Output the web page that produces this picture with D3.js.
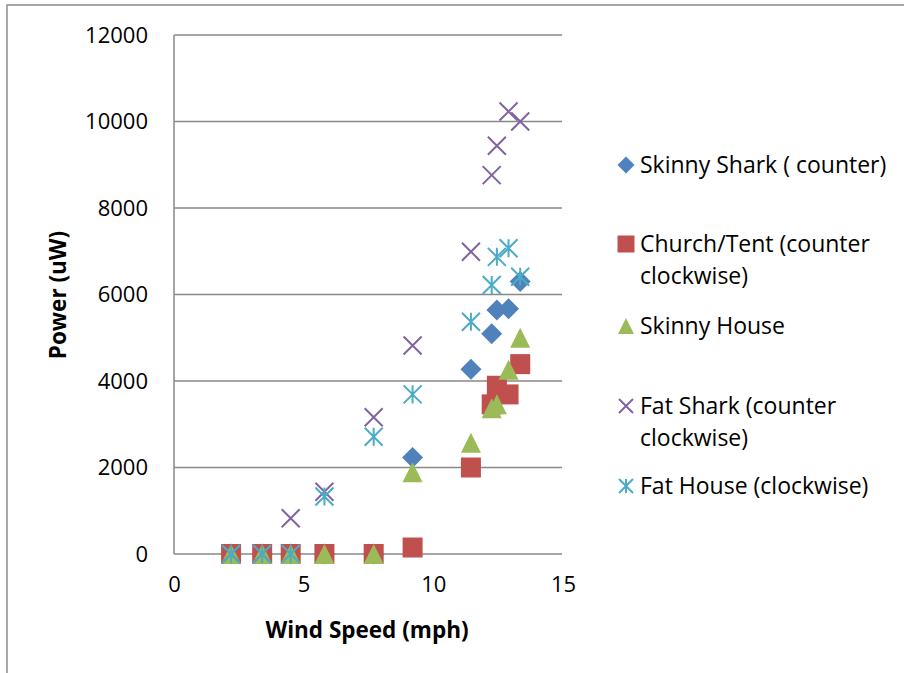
<!DOCTYPE html>
<html>
<head>
<meta charset="utf-8">
<script src="https://cdn.jsdelivr.net/npm/d3@7"></script>
<style>
  html, body { margin: 0; padding: 0; background: #fff; }
  svg { display: block; }
  text { font-family: "Open Sans", Lato, sans-serif; fill: #000; }
</style>
</head>
<body>
<svg id="chart" width="904" height="673"></svg>
<script>
// Wind speed (mph) at which each turbine was measured
const windSpeed = [2.2, 3.4, 4.5, 5.8, 7.7, 9.2, 11.45, 12.25, 12.45, 12.9, 13.35];

// Power output (uW) for each turbine design
const skinnyShark = [0, 0, 0, 0, 0, 2230, 4270, 5090, 5640, 5670, 6300];
const churchTent  = [0, 0, 0, 0, 0, 150, 2000, 3460, 3890, 3690, 4390];
const skinnyHouse = [0, 0, 0, 0, 0, 1890, 2570, 3370, 3460, 4260, 5000];
const fatShark    = [0, 0, 825, 1440, 3160, 4820, 6990, 8760, 9440, 10230, 10000];
const fatHouse    = [0, 0, 0, 1330, 2710, 3690, 5370, 6220, 6870, 7070, 6410];

const seriesNames = [
  ["Skinny Shark ( counter)"],
  ["Church/Tent (counter", "clockwise)"],
  ["Skinny House"],
  ["Fat Shark (counter", "clockwise)"],
  ["Fat House (clockwise)"]
];

const xTicks = [0, 5, 10, 15];
const yTicks = [0, 2000, 4000, 6000, 8000, 10000, 12000];

const series = [
  { name: seriesNames[0], values: skinnyShark, shape: "diamond",  color: "#4F81BD" },
  { name: seriesNames[1], values: churchTent,  shape: "square",   color: "#C0504D" },
  { name: seriesNames[2], values: skinnyHouse, shape: "triangle", color: "#9BBB59" },
  { name: seriesNames[3], values: fatShark,    shape: "x",        color: "#8064A2" },
  { name: seriesNames[4], values: fatHouse,    shape: "star",     color: "#4BACC6" }
];

const svg = d3.select("#chart");

// Outer chart frame
svg.append("rect")
  .attr("x", 7).attr("y", 5).attr("width", 1000).attr("height", 1000)
  .attr("fill", "none").attr("stroke", "#8c8c8c").attr("stroke-width", 1.5);

const plot = { left: 174, right: 562, top: 35, bottom: 554 };

const x = d3.scaleLinear().domain([0, 15]).range([plot.left, 563]);
const y = d3.scaleLinear().domain([0, 12000]).range([plot.bottom, plot.top]);

// Horizontal gridlines
svg.append("g")
  .selectAll("line")
  .data(yTicks)
  .join("line")
  .attr("x1", plot.left).attr("x2", plot.right)
  .attr("y1", d => y(d)).attr("y2", d => y(d))
  .attr("stroke", "#898989").attr("stroke-width", 1.5);

// Vertical axis line
svg.append("line")
  .attr("x1", plot.left).attr("x2", plot.left)
  .attr("y1", plot.top).attr("y2", plot.bottom)
  .attr("stroke", "#898989").attr("stroke-width", 1.5);

// Y axis tick labels
const yAxis = d3.axisLeft(y).tickValues(yTicks).tickSize(0).tickPadding(26).tickFormat(d3.format("d"));
const gy = svg.append("g").attr("transform", `translate(${plot.left},0)`).call(yAxis);
gy.select(".domain").remove();
gy.selectAll("text").attr("font-size", 22).attr("font-family", "Open Sans").attr("fill", "#000");

// X axis tick labels
const xAxis = d3.axisBottom(x).tickValues(xTicks).tickSize(0).tickPadding(22).tickFormat(d3.format("d"));
const gx = svg.append("g").attr("transform", `translate(0,${plot.bottom})`).call(xAxis);
gx.select(".domain").remove();
gx.selectAll("text").attr("font-size", 22).attr("font-family", "Open Sans").attr("fill", "#000");

// Axis titles
svg.append("text")
  .attr("x", 367).attr("y", 638)
  .attr("text-anchor", "middle")
  .attr("font-size", 22.5).attr("font-weight", "bold")
  .text("Wind Speed (mph)");

svg.append("text")
  .attr("transform", "translate(66,295) rotate(-90)")
  .attr("text-anchor", "middle")
  .attr("font-size", 22.5).attr("font-weight", "bold")
  .text("Power (uW)");

// Marker path generators, centred at the origin
function markerPath(shape, s) {
  const h = s / 2;
  switch (shape) {
    case "diamond":  return `M0,${-h}L${h},0L0,${h}L${-h},0Z`;
    case "square":   return `M${-h},${-h}H${h}V${h}H${-h}Z`;
    case "triangle": return `M0,${-h}L${h},${h}H${-h}Z`;
    case "x":        return `M${-h},${-h}L${h},${h}M${h},${-h}L${-h},${h}`;
    case "star":     return `M${-h},${-h}L${h},${h}M${h},${-h}L${-h},${h}M0,${-h}V${h}`;
  }
}
function styleMarker(sel, s) {
  const filled = s.shape === "diamond" || s.shape === "square" || s.shape === "triangle";
  sel.attr("fill", filled ? s.color : "none")
     .attr("stroke", filled ? "none" : s.color)
     .attr("stroke-width", filled ? 0 : 2);
}

const markerSize = { diamond: 21, square: 20, triangle: 20, x: 18, star: 18 };

// Data markers, one group per series
series.forEach(s => {
  const pts = windSpeed.map((w, i) => ({ w, p: s.values[i] }));
  svg.append("g")
    .selectAll("path")
    .data(pts)
    .join("path")
    .attr("d", markerPath(s.shape, markerSize[s.shape]))
    .attr("transform", d => `translate(${x(d.w)},${y(d.p)})`)
    .call(sel => styleMarker(sel, s));
});

// Legend
const legendRows = [
  { marker: 165, lines: [165] },
  { marker: 244, lines: [244, 276] },
  { marker: 326, lines: [326] },
  { marker: 406, lines: [406, 438] },
  { marker: 486, lines: [486] }
];
const legend = svg.append("g");
series.forEach((s, i) => {
  const row = legendRows[i];
  const legSize = { diamond: 17, square: 17, triangle: 16, x: 14, star: 14 }[s.shape];
  legend.append("path")
    .attr("d", markerPath(s.shape, legSize))
    .attr("transform", `translate(626,${row.marker})`)
    .call(sel => styleMarker(sel, s));
  s.name.forEach((line, j) => {
    legend.append("text")
      .attr("x", 640).attr("y", row.lines[j])
      .attr("dy", "0.35em")
      .attr("font-size", 23)
      .text(line);
  });
});
</script>
</body>
</html>
